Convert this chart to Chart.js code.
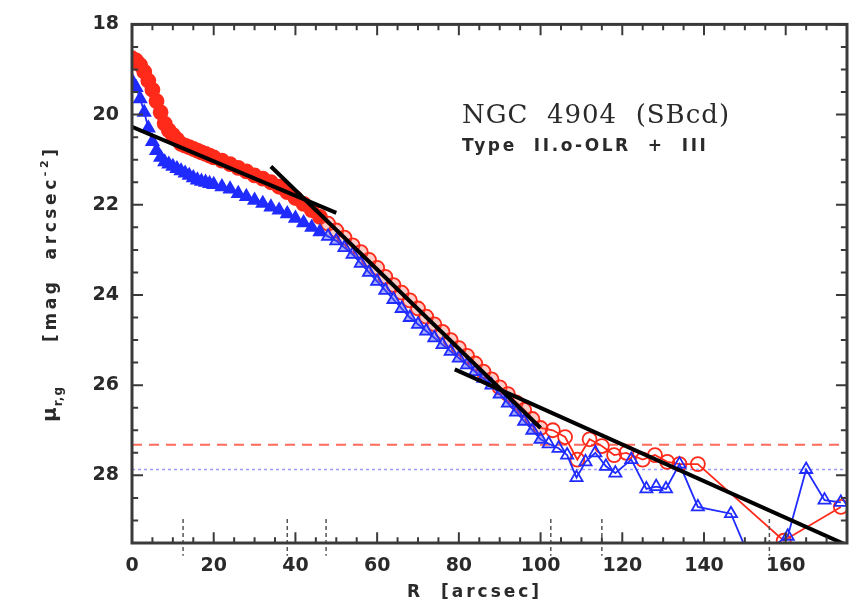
<!DOCTYPE html>
<html>
<head>
<meta charset="utf-8">
<title>NGC 4904 surface brightness profile</title>
<script src="https://cdn.jsdelivr.net/npm/chart.js@4.4.1/dist/chart.umd.min.js"></script>
<style>
  html, body { margin: 0; padding: 0; background: #fff; }
  canvas { display: block; }
</style>
</head>
<body>
<canvas id="profileChart" width="859" height="606"></canvas>
<script>
// radius in arcsec, surface brightness in mag arcsec^-2
const rBandRadius = [0, 1, 2, 3, 4, 5, 6, 7, 8, 9, 10, 11, 12, 13, 14, 15, 16, 17, 18, 19, 20,
    22, 24, 26, 28, 30, 32, 34, 36, 38, 40, 42, 44, 46, 48, 50, 52, 54, 56, 58, 60,
    62, 64, 66, 68, 70, 72, 74, 76, 78, 80, 82, 84, 86, 88, 90, 92, 94, 96, 98, 100,
    103, 106, 109, 112, 115, 118, 121, 125, 128, 131, 134, 138.5, 159.5, 173.5];
const rBandMu = [18.75, 18.8, 18.9, 19.05, 19.25, 19.45, 19.7, 19.95, 20.2, 20.35, 20.45, 20.55, 20.65, 20.69, 20.72, 20.76, 20.8, 20.84, 20.87, 20.91, 20.95,
    21.02, 21.1, 21.18, 21.26, 21.35, 21.42, 21.5, 21.6, 21.72, 21.85, 21.98, 22.12, 22.27, 22.42, 22.57, 22.73, 22.9, 23.05, 23.22, 23.4,
    23.6, 23.78, 23.95, 24.12, 24.3, 24.48, 24.65, 24.82, 25.0, 25.18, 25.35, 25.52, 25.7, 25.87, 26.05, 26.2, 26.38, 26.55, 26.75, 26.95,
    27.0, 27.15, 27.65, 27.2, 27.35, 27.55, 27.5, 27.65, 27.55, 27.7, 27.75, 27.75, 29.45, 28.7];

const gBandRadius = [0, 1, 2, 3, 4, 5, 6, 7, 8, 9, 10, 11, 12, 13, 14, 15, 16, 17, 18, 19, 20,
    22, 24, 26, 28, 30, 32, 34, 36, 38, 40, 42, 44, 46, 48, 50, 52, 54, 56, 58, 60,
    62, 64, 66, 68, 70, 72, 74, 76, 78, 80, 82, 84, 86, 88, 90, 92, 94, 96, 98, 100,
    102, 104.4, 106.5, 108.8, 111, 113.4, 116, 118.3, 122.2, 125.9, 128.3, 130.7, 134, 138.5, 146.6, 151.5, 160.5, 165, 169.5, 173.5];
const gBandMu = [19.25, 19.4, 19.65, 19.95, 20.3, 20.6, 20.8, 20.95, 21.05, 21.1, 21.15, 21.2, 21.25, 21.3, 21.35, 21.4, 21.45, 21.48, 21.5, 21.53, 21.55,
    21.6, 21.65, 21.75, 21.82, 21.9, 21.97, 22.05, 22.12, 22.2, 22.3, 22.4, 22.5, 22.6, 22.7, 22.8, 22.95, 23.1, 23.3, 23.5, 23.7,
    23.9, 24.1, 24.3, 24.5, 24.65, 24.8, 24.95, 25.1, 25.25, 25.4, 25.55, 25.7, 25.85, 26.0, 26.2, 26.4, 26.6, 26.8, 27.0, 27.2,
    27.3, 27.4, 27.55, 28.05, 27.7, 27.5, 27.8, 27.95, 27.65, 28.3, 28.25, 28.3, 27.75, 28.7, 28.85, 29.9, 29.35, 27.87, 28.55, 28.6];

// exponential fits: inner disc, outer disc, antitruncated part
const innerFitR = [0, 50];
const innerFitMu = [20.27, 22.18];
const middleFitR = [34, 100];
const middleFitMu = [21.15, 26.95];
const outerFitR = [79, 175];
const outerFitMu = [25.65, 29.55];

// limiting surface brightness for each band
const skyLimitR = 27.32;
const skyLimitG = 27.87;

// break radii marked on the R axis
const breakRadii = [12.5, 38, 47.5, 102.5, 115, 156];
const breakMarkTop = 28.97;
const breakMarkBottom = 29.78;

const xRange = [0, 175];
const yRange = [18, 29.5];

// inward tick marks: spacing and length in axis units
const xMinorStep = 5, xMajorStep = 20;
const yMinorStep = 0.5, yMajorStep = 2;
const xTickLen = { major: 0.24, minor: 0.13 };   // in mag, for the R axes
const yTickLen = { major: 2.7, minor: 1.5 };     // in arcsec, for the mu axes

const toPoints = (xs, ys) => xs.map((x, i) => ({ x: x, y: ys[i] }));

// tick segments for all four sides of the box, separated by gaps
function boxTicks() {
    const pts = [];
    for (let v = xRange[0]; v <= xRange[1]; v += xMinorStep) {
        const len = v % xMajorStep === 0 ? xTickLen.major : xTickLen.minor;
        pts.push({ x: v, y: yRange[1] }, { x: v, y: yRange[1] - len }, { x: v, y: null });
        pts.push({ x: v, y: yRange[0] }, { x: v, y: yRange[0] + len }, { x: v, y: null });
    }
    for (let v = yRange[0]; v <= yRange[1]; v += yMinorStep) {
        const len = v % yMajorStep === 0 ? yTickLen.major : yTickLen.minor;
        pts.push({ x: xRange[0], y: v }, { x: xRange[0] + len, y: v }, { x: xRange[0], y: null });
        pts.push({ x: xRange[1], y: v }, { x: xRange[1] - len, y: v }, { x: xRange[1], y: null });
    }
    return pts;
}

const RED = '#ff2a1a';
const BLUE = '#1f2bff';
const AXIS = '#3a3a3a';
const TICK_FONT = 'DejaVu Sans';

// bright centre is solid, the disc part half filled, the noisy outskirts open
function markerFill(solid, half) {
    return c => {
        const r = c.raw ? c.raw.x : 0;
        if (r < 48) return solid;
        if (r <= 100) return half;
        return 'rgba(255,255,255,0)';
    };
}

// box frame round the plot area
const plotFrame = {
    id: 'plotFrame',
    afterDatasetsDraw(chart) {
        const { ctx, chartArea: a } = chart;
        ctx.save();
        ctx.strokeStyle = AXIS;
        ctx.lineWidth = 3;
        ctx.strokeRect(a.left, a.top, a.right - a.left, a.bottom - a.top);
        ctx.restore();
    }
};

// axis titles and the galaxy label
const plotText = {
    id: 'plotText',
    afterDraw(chart) {
        const { ctx } = chart;
        ctx.save();
        ctx.fillStyle = '#2a2a2a';
        ctx.textBaseline = 'alphabetic';
        ctx.textAlign = 'left';

        // y title, read bottom to top
        ctx.translate(56, 422);
        ctx.rotate(-Math.PI / 2);
        let cx = 0;
        ctx.letterSpacing = '1px';
        ctx.font = 'bold 20px ' + TICK_FONT;
        ctx.fillText('μ', cx, 0);
        cx += ctx.measureText('μ').width;
        ctx.font = 'bold 12px ' + TICK_FONT;
        ctx.fillText('r,g', cx, 6);
        cx += ctx.measureText('r,g').width + 44;
        ctx.letterSpacing = '3.6px';
        ctx.font = 'bold 17px ' + TICK_FONT;
        ctx.fillText('[mag  arcsec', cx, 0);
        cx += ctx.measureText('[mag  arcsec').width;
        ctx.font = 'bold 11px ' + TICK_FONT;
        ctx.fillText('-2', cx, -8);
        cx += ctx.measureText('-2').width;
        ctx.font = 'bold 17px ' + TICK_FONT;
        ctx.fillText(']', cx, 0);
        ctx.setTransform(1, 0, 0, 1, 0, 0);

        // x title
        ctx.letterSpacing = '3px';
        ctx.font = 'bold 17px ' + TICK_FONT;
        ctx.fillText('R  [arcsec]', 407, 597);

        // galaxy name and profile type
        ctx.letterSpacing = '1px';
        ctx.font = '26px "DejaVu Serif"';
        ctx.fillText('NGC  4904  (SBcd)', 462, 123);
        ctx.letterSpacing = '2.6px';
        ctx.font = 'bold 17px ' + TICK_FONT;
        ctx.fillText('Type  II.o-OLR  +  III', 462, 151);
        ctx.restore();
    }
};

const ctx = document.getElementById('profileChart').getContext('2d');
new Chart(ctx, {
    type: 'scatter',
    data: {
        datasets: [
            {
                label: 'axis ticks',
                data: boxTicks(),
                showLine: true, spanGaps: false, borderColor: AXIS, borderWidth: 2,
                pointRadius: 0, order: -1
            },
            {
                label: 'inner fit',
                data: toPoints(innerFitR, innerFitMu),
                showLine: true, borderColor: '#000', borderWidth: 4, pointRadius: 0, order: 0
            },
            {
                label: 'middle fit',
                data: toPoints(middleFitR, middleFitMu),
                showLine: true, borderColor: '#000', borderWidth: 4, pointRadius: 0, order: 0
            },
            {
                label: 'outer fit',
                data: toPoints(outerFitR, outerFitMu),
                showLine: true, borderColor: '#000', borderWidth: 4, pointRadius: 0, order: 0
            },
            {
                label: 'breaks',
                data: breakRadii.flatMap(r => [{ x: r, y: breakMarkTop }, { x: r, y: breakMarkBottom }, { x: r, y: null }]),
                showLine: true, spanGaps: false, borderColor: '#555', borderWidth: 1.5,
                borderDash: [4, 3], pointRadius: 0, clip: false, order: 1
            },
            {
                label: 'g',
                data: toPoints(gBandRadius, gBandMu),
                showLine: true, borderColor: BLUE, borderWidth: 1.8,
                pointStyle: 'triangle', pointRadius: 7, pointBorderWidth: 1.8,
                pointBorderColor: BLUE,
                pointBackgroundColor: markerFill(BLUE, 'rgba(60,70,255,0.45)'), order: 2
            },
            {
                label: 'r',
                data: toPoints(rBandRadius, rBandMu),
                showLine: true, borderColor: RED, borderWidth: 1.8,
                pointStyle: 'circle', pointRadius: 7, pointBorderWidth: 1.8,
                pointBorderColor: RED,
                pointBackgroundColor: markerFill(RED, 'rgba(255,90,70,0.3)'), order: 3
            },
            {
                label: 'sky r',
                data: toPoints(xRange, [skyLimitR, skyLimitR]),
                showLine: true, borderColor: '#ff6a5a', borderWidth: 2,
                borderDash: [10, 7], pointRadius: 0, order: 4
            },
            {
                label: 'sky g',
                data: toPoints(xRange, [skyLimitG, skyLimitG]),
                showLine: true, borderColor: '#9a9cff', borderWidth: 1.5,
                borderDash: [3, 3], pointRadius: 0, order: 4
            }
        ]
    },
    options: {
        responsive: false,
        animation: false,
        events: [],
        layout: { padding: { left: 0, top: 15.6, right: 10, bottom: 0 } },
        plugins: {
            legend: { display: false },
            tooltip: { enabled: false }
        },
        scales: {
            x: {
                type: 'linear',
                min: xRange[0],
                max: xRange[1],
                grid: { display: false, drawTicks: false },
                border: { display: false },
                afterFit: scale => { scale.height = 63; },
                ticks: {
                    stepSize: 20,
                    autoSkip: false,
                    maxRotation: 0,
                    padding: 12,
                    color: '#2a2a2a',
                    font: { family: TICK_FONT, size: 19, weight: 'bold' },
                    callback: v => (v % 20 === 0 ? String(v) : '')
                }
            },
            y: {
                type: 'linear',
                reverse: true,
                min: yRange[0],
                max: yRange[1],
                grid: { display: false, drawTicks: false },
                border: { display: false },
                afterFit: scale => { scale.width = 132; },
                ticks: {
                    stepSize: 2,
                    autoSkip: false,
                    padding: 13,
                    color: '#2a2a2a',
                    font: { family: TICK_FONT, size: 19, weight: 'bold' },
                    callback: v => (v % 2 === 0 && v <= 28 ? String(v) : '')
                }
            }
        }
    },
    plugins: [plotFrame, plotText]
});
</script>
</body>
</html>
